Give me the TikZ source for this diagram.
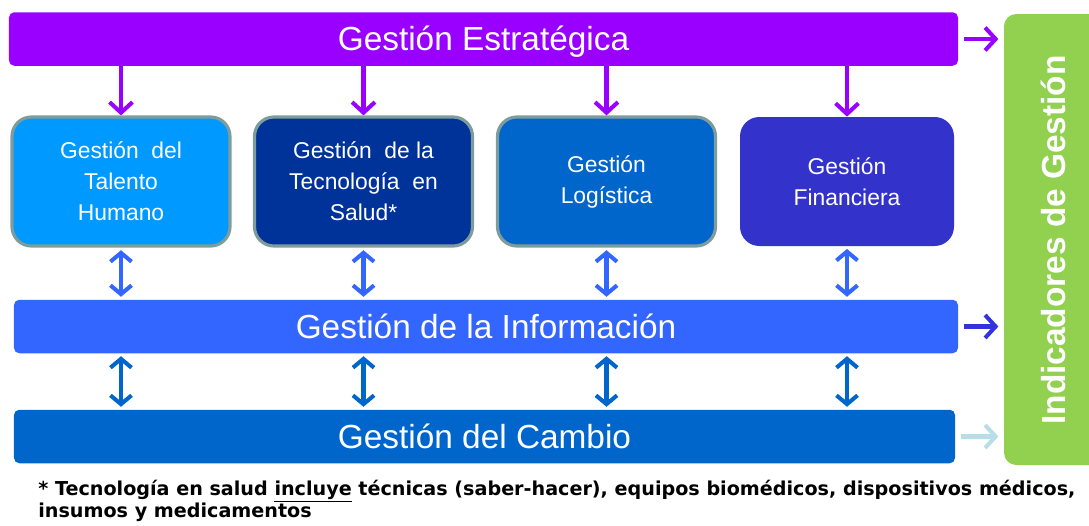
\documentclass[tikz,border=0pt]{standalone}
\usepackage{fontspec}
\setmainfont{Liberation Sans}
\newfontfamily\notafont{DejaVu Sans}
\usetikzlibrary{arrows.meta,positioning,calc}
\definecolor{estrColor}{HTML}{9900FF}
\definecolor{talentoColor}{HTML}{0099FF}
\definecolor{tecnoColor}{HTML}{003399}
\definecolor{logiColor}{HTML}{0066CC}
\definecolor{finanColor}{HTML}{3333CC}
\definecolor{infoColor}{HTML}{3366FF}
\definecolor{cambioColor}{HTML}{0066CC}
\definecolor{indColor}{HTML}{92D050}
\definecolor{bordeColor}{HTML}{7F9C9C}
\definecolor{infoArrow}{HTML}{3333DD}
\definecolor{cambioArrow}{HTML}{B7DEE8}

\begin{document}
\begin{tikzpicture}[
    bar/.style={rounded corners=3pt, text=white, minimum height=1.07cm, inner sep=0pt, text height=15pt, text depth=1.4pt, font=\fontsize{19}{22}\selectfont},
    area/.style={rounded corners=11pt, text=white, minimum width=4.36cm, minimum height=2.58cm, align=center, inner sep=0pt, font=\fontsize{13}{17.6}\selectfont},
    bordered/.style={draw=bordeColor, line width=1.8pt},
    flecha/.style={line width=2.3pt, -{Straight Barb[length=6pt, width=13pt]}},
    doble/.style={line width=2.3pt, {Straight Barb[length=5pt, width=12pt]}-{Straight Barb[length=5pt, width=12pt]}, shorten <=1.5pt, shorten >=1.5pt},
    nota/.style={font=\notafont\fontsize{10.9}{14}\selectfont\bfseries, inner sep=0pt}
  ]
    \useasboundingbox (0,0) rectangle (21.78,-10.5);
    \begin{scope}
    \clip (0,0) rectangle (21.78,-10.5);
    \node[fill=indColor, rounded corners=7pt, minimum width=2.4cm, minimum height=9.02cm, inner sep=0pt] (ind) at (21.28,-4.79) {};
    \end{scope}
    \node[rotate=90, text=white, font=\fontsize{19}{24}\selectfont\bfseries] (indtxt) at (21.06,-4.8) {Indicadores de Gestión};

    \node[bar, fill=estrColor, minimum width=18.98cm] (estr) at (9.67,-0.78) {Gestión Estratégica};

    \node[area, bordered, fill=talentoColor] (talento) at (2.42,-3.63) {Gestión\ \ del\\Talento\\Humano};
    \node[area, bordered, fill=tecnoColor] (tecno) at (7.27,-3.63) {Gestión\ \ de la\\Tecnología\ \ en\\Salud*};
    \node[area, bordered, fill=logiColor] (logi) at (12.13,-3.63) {Gestión\\Logística};
    \node[area, fill=finanColor, minimum width=4.28cm] (finan) at (16.94,-3.63) {Gestión\\Financiera};

    \node[bar, fill=infoColor, minimum width=18.88cm] (info) at (9.72,-6.53) {Gestión de la Información};
    \node[bar, fill=cambioColor, minimum width=18.82cm] (cambio) at (9.69,-8.73) {Gestión del Cambio};

    \foreach \a in {talento,tecno,logi,finan} {
      \draw[flecha, estrColor] (\a.north |- estr.south) -- (\a.north);
      \draw[doble, infoColor] (\a.south) -- (\a.south |- info.north);
      \draw[doble, cambioColor] (\a.south |- info.south) -- (\a.south |- cambio.north);
    }

    \draw[flecha, estrColor, shorten <=3pt, shorten >=3pt] (estr.east) -- (estr.east -| ind.west);
    \draw[flecha, infoArrow, shorten <=3pt, shorten >=3pt] (info.east) -- (info.east -| ind.west);
    \draw[flecha, cambioArrow, shorten <=3pt, shorten >=3pt] (cambio.east) -- (cambio.east -| ind.west);

    \node[nota, anchor=base west] (nota1) at (0.76,-9.9) {* Tecnología en salud \underline{incluye} técnicas (saber-hacer), equipos biomédicos, dispositivos médicos,};
    \node[nota, anchor=base west] (nota2) at (0.76,-10.35) {insumos y medicamentos};
\end{tikzpicture}
\end{document}
